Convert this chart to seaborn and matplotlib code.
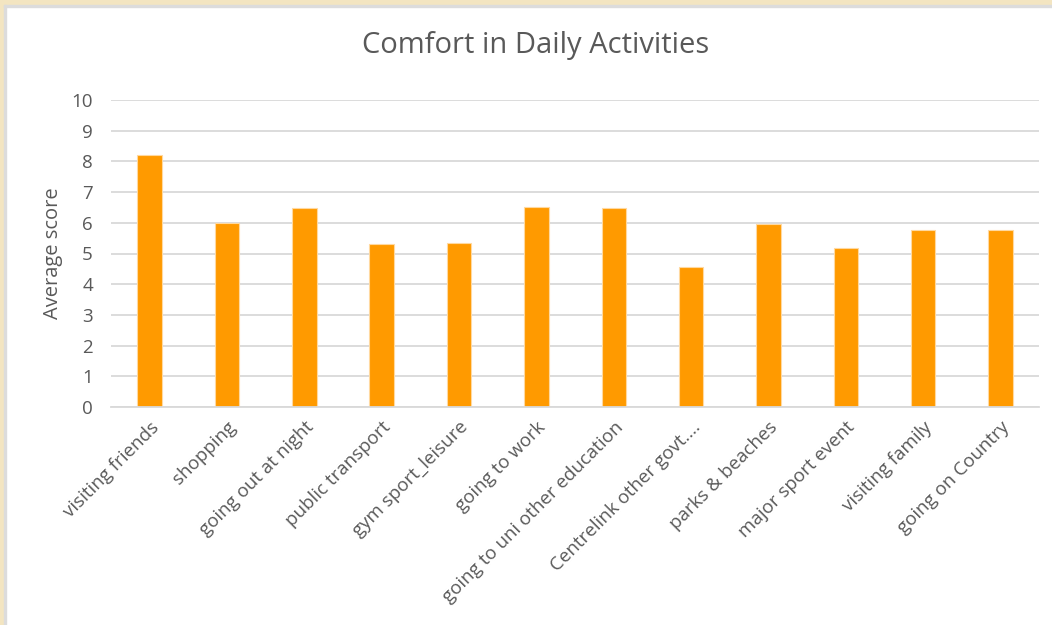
import matplotlib
matplotlib.use("Agg")
import matplotlib.pyplot as plt
import seaborn as sns
import pandas as pd
from matplotlib.patches import Rectangle

# Data
activities = ["visiting friends", "shopping", "going out at night", "public transport",
              "gym sport_leisure", "going to work", "going to uni other education",
              "Centrelink other govt....", "parks & beaches", "major sport event",
              "visiting family", "going on Country"]
scores = [8.21, 5.99, 6.47, 5.30, 5.33, 6.53, 6.48, 4.55, 5.97, 5.18, 5.78, 5.76]
y_ticks = list(range(0, 11))

df = pd.DataFrame({"activity": activities, "score": scores})

sns.set_style("white")
plt.rcParams["font.family"] = ["Open Sans", "DejaVu Sans"]

fig = plt.figure(figsize=(10.52, 6.25), dpi=100)
ax = fig.add_axes([0.1055, 0.3488, 0.8822, 0.4912])

sns.barplot(data=df, x="activity", y="score", color="#FF9A00", width=0.315,
            edgecolor="#FFD9A0", linewidth=0.8, saturation=1, ax=ax)

ax.set_ylim(0, 10)
ax.set_yticks(y_ticks)
ax.set_xlim(-0.5, len(activities) - 0.5)
ax.yaxis.grid(True, color="#D9D9D9", linewidth=1.3)
ax.set_axisbelow(True)
for side in ["top", "right", "left"]:
    ax.spines[side].set_visible(False)
ax.spines["bottom"].set_color("#D9D9D9")
ax.spines["bottom"].set_linewidth(1.3)
ax.tick_params(axis="both", length=0, colors="#595959", labelsize=13.5)
ax.tick_params(axis="y", pad=13)
plt.setp(ax.get_xticklabels(), rotation=45, ha="right", rotation_mode="anchor")
ax.tick_params(axis="x", pad=8)

ax.set_xlabel("")
ax.set_ylabel("Average score", fontsize=14.5, color="#595959", labelpad=6)
fig.text(0.509, 0.928, "Comfort in Daily Activities", ha="center", va="center",
         fontsize=21, color="#595959")

# beige frame on top and left edges
fig.patches.append(Rectangle((0, 1 - 5 / 625), 1, 5 / 625, transform=fig.transFigure,
                             color="#F3E5C1", zorder=0))
fig.patches.append(Rectangle((0, 0), 4 / 1052, 1, transform=fig.transFigure,
                             color="#F3E5C1", zorder=0))
fig.patches.append(Rectangle((4 / 1052, 0), 2 / 1052, 1 - 5 / 625, transform=fig.transFigure,
                             color="#DCDCDC", zorder=0))
fig.patches.append(Rectangle((4 / 1052, 1 - 7 / 625), 1, 2 / 625, transform=fig.transFigure,
                             color="#DCDCDC", zorder=0))

fig.savefig("out.png", dpi=100)
